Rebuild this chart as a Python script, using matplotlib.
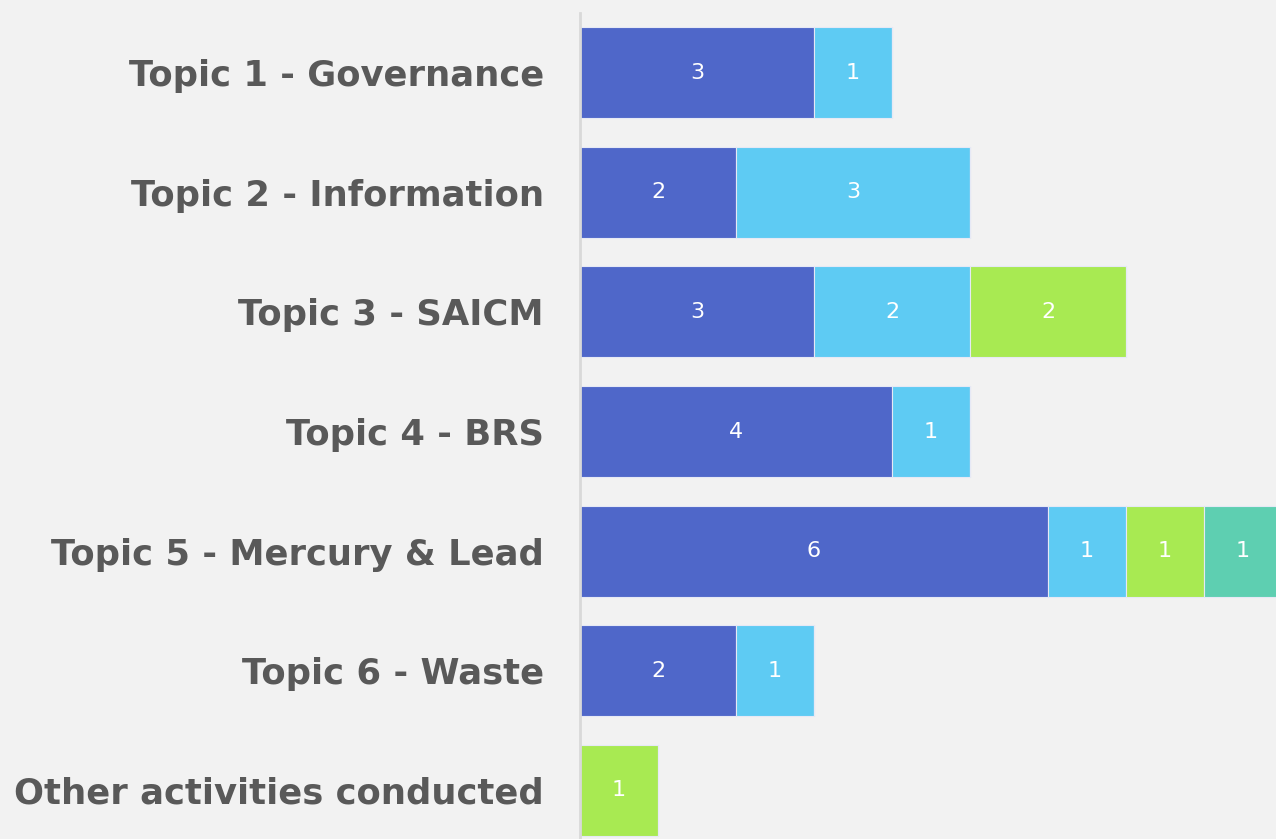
import numpy as np
import matplotlib.pyplot as plt

## chart data
topics = ['Topic 1 - Governance', 'Topic 2 - Information', 'Topic 3 - SAICM',
          'Topic 4 - BRS', 'Topic 5 - Mercury & Lead', 'Topic 6 - Waste',
          'Other activities conducted']
series_a = [3, 2, 3, 4, 6, 2, 0]
series_b = [1, 3, 2, 1, 1, 1, 0]
series_c = [0, 0, 2, 0, 1, 0, 1]
series_d = [0, 0, 0, 0, 1, 0, 0]

colors = ['#4F67C9', '#5ECBF3', '#A8EA52', '#5ECFB1']
bg = '#F2F2F2'

fig = plt.figure(figsize=(12.76, 8.39), dpi=100, facecolor=bg)
# axes extends a little below the figure, like the original
ax = fig.add_axes([580/1276, -11/839, 697/1276, 837/839], facecolor=bg)

y = np.arange(len(topics))
left = np.zeros(len(topics))
for vals, col in zip([series_a, series_b, series_c, series_d], colors):
	vals = np.array(vals, dtype=float)
	bars = ax.barh(y, vals, left=left, height=0.76, color=col,
		edgecolor='#E6E9F5', linewidth=0.8, zorder=2)
	for b, v in zip(bars, vals):
		if v > 0:
			ax.text(b.get_x() + b.get_width()/2, b.get_y() + b.get_height()/2,
				'%d' % v, color='white', ha='center', va='center', fontsize=16)
	left += vals

ax.set_xlim(0, 697/78)
ax.set_ylim(len(topics) - 0.5, -0.5)
ax.set_yticks(y)
ax.set_yticklabels(topics, fontsize=25.5, fontweight='bold', color='#595959')
ax.tick_params(axis='y', length=0, pad=26)
ax.set_xticks([])
for s in ['top', 'right', 'bottom']:
	ax.spines[s].set_visible(False)
ax.spines['left'].set_color('#D9D9D9')
ax.spines['left'].set_linewidth(2)

fig.savefig('out.png', dpi=100, facecolor=bg)
